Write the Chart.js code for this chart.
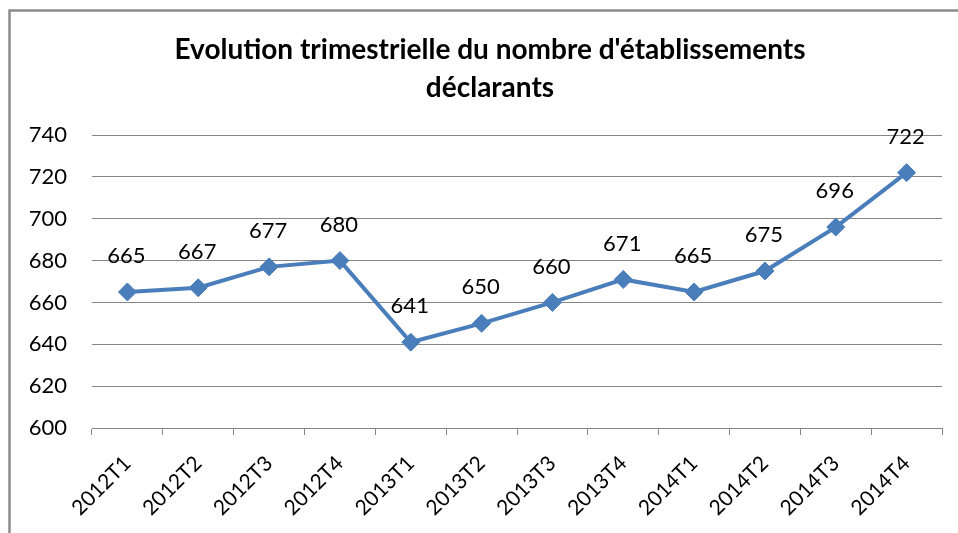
<!DOCTYPE html>
<html lang="fr">
<head>
<meta charset="utf-8">
<title>Evolution trimestrielle</title>
<script src="https://cdn.jsdelivr.net/npm/chart.js@4/dist/chart.umd.min.js"></script>
<style>
  html, body { margin: 0; padding: 0; background: #fff; }
  #wrap { width: 958px; height: 533px; position: relative; }
</style>
</head>
<body>
<div id="wrap"><canvas id="chart"></canvas></div>
<script>
(function() {
    'use strict';

    const trimestres = ['2012T1', '2012T2', '2012T3', '2012T4', '2013T1', '2013T2',
                        '2013T3', '2013T4', '2014T1', '2014T2', '2014T3', '2014T4'];
    const etablissements = [665, 667, 677, 680, 641, 650, 660, 671, 665, 675, 696, 722];
    const yTicks = [600, 620, 640, 660, 680, 700, 720, 740];
    const titre = ["Evolution trimestrielle du nombre d'établissements", 'déclarants'];

    const bleu = '#4a7ebb';
    const gris = '#868686';
    const police = 'Lato, "Noto Sans", sans-serif';

    // fond blanc, cadre gris et titre sur deux lignes
    const cadre = {
        id: 'cadre',
        beforeDraw(chart) {
            const ctx = chart.ctx;
            ctx.save();
            ctx.fillStyle = '#fff';
            ctx.fillRect(0, 0, chart.width, chart.height);
            ctx.strokeStyle = '#8c8c8c';
            ctx.lineWidth = 2.5;
            ctx.beginPath();
            ctx.moveTo(9.5, chart.height + 5);
            ctx.lineTo(9.5, 10.5);
            ctx.lineTo(chart.width + 5, 10.5);
            ctx.stroke();

            ctx.font = 'bold 28px ' + police;
            ctx.fillStyle = '#000';
            ctx.textAlign = 'center';
            ctx.textBaseline = 'middle';
            titre.forEach((ligne, i) => ctx.fillText(ligne, 490, 50 + i * 38));
            ctx.restore();
        }
    };

    // valeurs affichées au-dessus des points
    const etiquettes = {
        id: 'etiquettes',
        afterDatasetsDraw(chart) {
            const ctx = chart.ctx;
            const meta = chart.getDatasetMeta(0);
            ctx.save();
            ctx.font = '22px ' + police;
            ctx.fillStyle = '#000';
            ctx.textAlign = 'center';
            ctx.textBaseline = 'middle';
            meta.data.forEach((pt, i) => {
                ctx.fillText(String(etablissements[i]), pt.x - 1, pt.y - 36);
            });
            ctx.restore();
        }
    };

    new Chart(document.getElementById('chart'), {
        type: 'line',
        data: {
            labels: trimestres,
            datasets: [{
                data: etablissements,
                borderColor: bleu,
                backgroundColor: bleu,
                borderWidth: 4,
                pointStyle: 'rectRot',
                pointRadius: 9,
                pointBorderWidth: 1,
                pointBorderColor: bleu,
                pointBackgroundColor: bleu,
                tension: 0
            }]
        },
        options: {
            responsive: true,
            maintainAspectRatio: false,
            animation: false,
            layout: { padding: { left: 0, right: 16, top: 135, bottom: 0 } },
            plugins: {
                legend: { display: false },
                tooltip: { enabled: false },
                title: { display: false }
            },
            scales: {
                x: {
                    offset: true,
                    grid: {
                        offset: true,
                        drawOnChartArea: false,
                        color: gris,
                        tickLength: 7
                    },
                    border: { color: gris, width: 1 },
                    ticks: {
                        color: '#000',
                        font: { family: police, size: 21 },
                        minRotation: 45,
                        maxRotation: 45,
                        autoSkip: false,
                        padding: 16
                    },
                    afterFit(scale) { scale.height = 105; }
                },
                y: {
                    min: 600,
                    max: 740,
                    afterBuildTicks(scale) {
                        scale.ticks = yTicks.map(v => ({ value: v }));
                    },
                    grid: { color: gris, drawTicks: false },
                    border: { display: false },
                    ticks: {
                        color: '#000',
                        font: { family: police, size: 22 },
                        padding: 25
                    },
                    afterFit(scale) { scale.width = 92; }
                }
            }
        },
        plugins: [cadre, etiquettes]
    });
})();
</script>
</body>
</html>
